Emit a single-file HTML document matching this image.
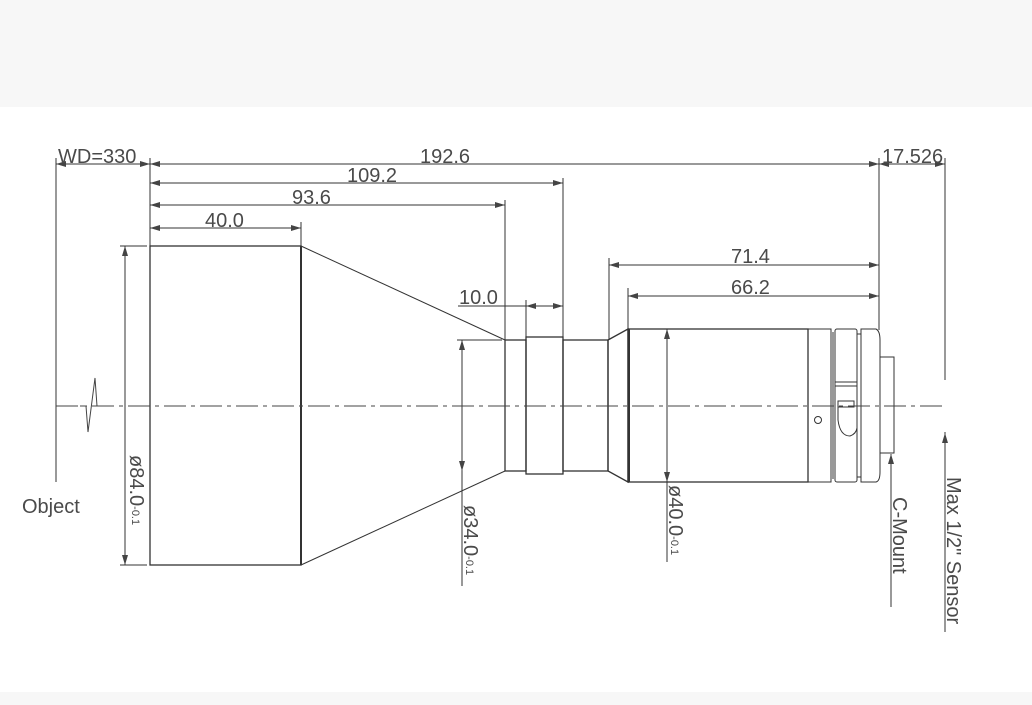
<!DOCTYPE html>
<html><head><meta charset="utf-8"><style>
html,body{margin:0;padding:0;background:#fff;}
svg{display:block;}
text{font-family:"Liberation Sans",sans-serif;fill:#4a4a4a;font-size:20px;}
</style></head><body>
<svg width="1032" height="705" viewBox="0 0 1032 705" xmlns="http://www.w3.org/2000/svg">
<defs>
<marker id="a" viewBox="0 0 10 6" refX="10" refY="3" markerWidth="10" markerHeight="6" orient="auto-start-reverse" markerUnits="userSpaceOnUse"><path d="M0,0 L10,3 L0,6 z" fill="#444"/></marker>
</defs>
<rect x="0" y="0" width="1032" height="107" fill="#f7f7f7"/>
<rect x="0" y="692" width="1032" height="13" fill="#f7f7f7"/>
<g stroke="#333" stroke-width="1" fill="none">
<line x1="56" y1="158" x2="56" y2="482"/>
<line x1="150" y1="158" x2="150" y2="246"/>
<line x1="301" y1="222" x2="301" y2="246"/>
<line x1="505" y1="200" x2="505" y2="340"/>
<line x1="563" y1="178" x2="563" y2="337"/>
<line x1="526" y1="300" x2="526" y2="337"/>
<line x1="609" y1="258" x2="609" y2="340"/>
<line x1="628" y1="288" x2="628" y2="329"/>
<line x1="879" y1="158" x2="879" y2="330"/>
<line x1="945" y1="158" x2="945" y2="380"/>
<line x1="945" y1="432" x2="945" y2="632"/>
<line x1="56" y1="164" x2="150" y2="164" marker-start="url(#a)" marker-end="url(#a)"/>
<line x1="150" y1="164" x2="879" y2="164" marker-start="url(#a)" marker-end="url(#a)"/>
<line x1="879" y1="164" x2="945" y2="164" marker-start="url(#a)" marker-end="url(#a)"/>
<line x1="150" y1="183" x2="563" y2="183" marker-start="url(#a)" marker-end="url(#a)"/>
<line x1="150" y1="205" x2="505" y2="205" marker-start="url(#a)" marker-end="url(#a)"/>
<line x1="150" y1="228" x2="301" y2="228" marker-start="url(#a)" marker-end="url(#a)"/>
<line x1="609" y1="265" x2="879" y2="265" marker-start="url(#a)" marker-end="url(#a)"/>
<line x1="628" y1="296" x2="879" y2="296" marker-start="url(#a)" marker-end="url(#a)"/>
<line x1="458" y1="306" x2="526" y2="306"/>
<line x1="526" y1="306" x2="563" y2="306" marker-start="url(#a)" marker-end="url(#a)"/>
<line x1="125" y1="246" x2="125" y2="565" marker-start="url(#a)" marker-end="url(#a)"/>
<line x1="120" y1="246" x2="147" y2="246"/><line x1="120" y1="565" x2="147" y2="565"/>
<line x1="462" y1="340" x2="462" y2="471" marker-start="url(#a)" marker-end="url(#a)"/>
<line x1="457" y1="340" x2="502" y2="340"/>
<line x1="462" y1="471" x2="462" y2="586"/>
<line x1="667" y1="329" x2="667" y2="482" marker-start="url(#a)" marker-end="url(#a)"/>
<line x1="667" y1="482" x2="667" y2="562"/>
<line x1="945" y1="632" x2="945" y2="433" marker-end="url(#a)"/>
<line x1="891" y1="607" x2="891" y2="454" marker-end="url(#a)"/>
<rect x="150" y="246" width="151" height="319" stroke-width="1.3"/>
<line x1="301" y1="246" x2="301" y2="565" stroke-width="2"/>
<polyline points="301,246 505,340"/><polyline points="301,565 505,471"/>
<rect x="505" y="340" width="21" height="131" stroke-width="1.3"/>
<rect x="526" y="337" width="37" height="137" stroke-width="1.3"/>
<rect x="563" y="340" width="45" height="131" stroke-width="1.3"/>
<polygon points="608,340 628,329 628,482 608,471" stroke-width="1.3"/>
<rect x="628" y="329" width="180" height="153" stroke-width="1.3"/>
<line x1="629" y1="329" x2="629" y2="482" stroke-width="2"/>
<rect x="808" y="329" width="23" height="153"/>
<line x1="833" y1="332" x2="833" y2="479"/>
<rect x="835" y="329" width="22" height="153" rx="2"/>
<rect x="857" y="334" width="4" height="143"/>
<path d="M861,329 H876 Q880,331 880,340 V472 Q880,481 876,482 H861 Z"/>
<rect x="880" y="357" width="14" height="96"/>
<circle cx="818" cy="420" r="3.5"/>
<rect x="835" y="382" width="22" height="4"/>
<rect x="838" y="401" width="16" height="6"/>
<path d="M838,407 V420 Q840,436 850,436 Q856,434 857,428"/>
</g>
<line x1="56" y1="406" x2="945" y2="406" stroke="#444" stroke-width="1" stroke-dasharray="22,5,4,5"/>
<polyline points="80,406 86,406 88,432 95,378 97,406 104,406" fill="none" stroke="#444" stroke-width="1"/>
<text x="58" y="163">WD=330</text>
<text x="420" y="163">192.6</text>
<text x="347" y="182">109.2</text>
<text x="292" y="204">93.6</text>
<text x="205" y="227">40.0</text>
<text x="882" y="163">17.526</text>
<text x="731" y="263">71.4</text>
<text x="731" y="294">66.2</text>
<text x="459" y="304">10.0</text>
<text x="22" y="513">Object</text>
<text transform="translate(130,455) rotate(90)">ø84.0<tspan font-size="11" dy="-2">-0.1</tspan></text>
<text transform="translate(464,505) rotate(90)">ø34.0<tspan font-size="11" dy="-2">-0.1</tspan></text>
<text transform="translate(669,485) rotate(90)">ø40.0<tspan font-size="11" dy="-2">-0.1</tspan></text>
<text transform="translate(893,497) rotate(90)" font-size="19">C-Mount</text>
<text transform="translate(947,477) rotate(90)" font-size="18">Max 1/2" Sensor</text>
</svg>
</body></html>
